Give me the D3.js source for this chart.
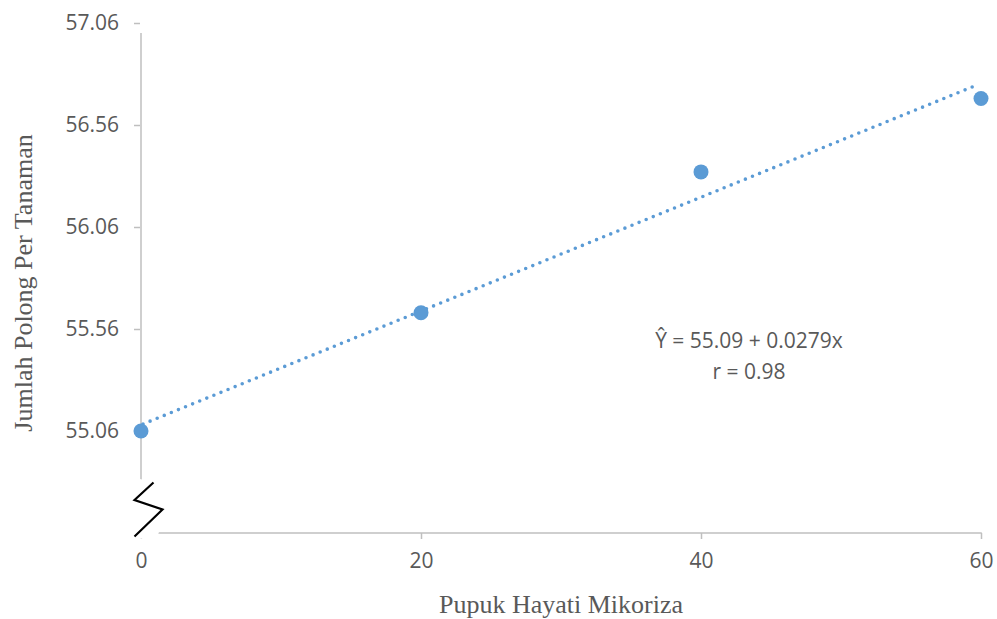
<!DOCTYPE html>
<html><head><meta charset="utf-8">
<script src="https://cdn.jsdelivr.net/npm/d3@7"></script>
<style>
html,body{margin:0;padding:0;background:#fff;}
svg{display:block;}
</style></head>
<body>
<svg id="chart" width="997" height="619"></svg>
<script>
const xValues = [0, 20, 40, 60];
const yValues = [55.06, 55.64, 56.33, 56.69];
const yTicks = [55.06, 55.56, 56.06, 56.56, 57.06];
const xTicks = [0, 20, 40, 60];
const trend = { intercept: 55.09, slope: 0.0279 };
const eqLines = ["Ŷ = 55.09 + 0.0279x", "r = 0.98"];
const xTitle = "Pupuk Hayati Mikoriza";
const yTitle = "Jumlah Polong Per Tanaman";

const svg = d3.select("#chart");
const x = d3.scaleLinear().domain([0, 60]).range([141, 981]);
const y = d3.scaleLinear().domain([54.56, 57.06]).range([533, 23]);
const axisColor = "#BFBFBF", textColor = "#595959", blue = "#5B9BD5";
const tickFont = "'Open Sans', sans-serif";

// Y axis
const ya = svg.append("g").attr("transform", `translate(${x(0) - 1},0)`)
  .call(d3.axisLeft(y).tickValues(yTicks).tickSize(6).tickPadding(15).tickFormat(d3.format(".2f")));
ya.select(".domain").remove();
ya.selectAll(".tick line").attr("stroke", axisColor).attr("stroke-width", 1.5);
ya.selectAll(".tick text").attr("fill", textColor).style("font-family", tickFont).style("font-size", "21px");
svg.append("line").attr("x1", x(0)).attr("x2", x(0)).attr("y1", y(57.06) + 10).attr("y2", 485)
  .attr("stroke", axisColor).attr("stroke-width", 1.5);

// X axis
const xa = svg.append("g").attr("transform", `translate(0,${y(54.56)})`)
  .call(d3.axisBottom(x).tickValues(xTicks).tickSize(6).tickPadding(14));
xa.select(".domain").remove();
xa.selectAll(".tick line").attr("stroke", axisColor).attr("stroke-width", 1.5);
xa.selectAll(".tick text").attr("fill", textColor).style("font-family", tickFont).style("font-size", "21px");
svg.append("line").attr("x1", x(0)).attr("x2", x(60) + 0.75).attr("y1", y(54.56)).attr("y2", y(54.56))
  .attr("stroke", axisColor).attr("stroke-width", 1.5);

// Axis break
svg.append("polygon").attr("points", "140,479 172,487 156,542 122,534").attr("fill", "#fff");
svg.append("polyline").attr("points", "153.5,482.5 134.5,500 162.5,509.5 134.5,536.5")
  .attr("fill", "none").attr("stroke", "#000").attr("stroke-width", 2.2);

// Trend line
svg.append("line")
  .attr("x1", x(0) + 2).attr("y1", y(trend.intercept + trend.slope * 0.15))
  .attr("x2", x(59.6)).attr("y2", y(trend.intercept + trend.slope * 59.6))
  .attr("stroke", blue).attr("stroke-width", 3.6).attr("stroke-linecap", "round")
  .attr("stroke-dasharray", "0 7.65");

// Points
svg.selectAll("circle.pt").data(xValues.map((v, i) => [v, yValues[i]])).enter()
  .append("circle").attr("class", "pt")
  .attr("cx", d => x(d[0])).attr("cy", d => y(d[1])).attr("r", 7.5).attr("fill", blue);

// Equation
svg.selectAll("text.eq").data(eqLines).enter().append("text").attr("class", "eq")
  .attr("x", 749).attr("y", (d, i) => 348 + i * 31).attr("text-anchor", "middle")
  .attr("fill", textColor).style("font-family", tickFont).style("font-size", "21px").text(d => d);

// Titles
svg.append("text").attr("x", 561).attr("y", 613).attr("text-anchor", "middle")
  .attr("fill", textColor).style("font-family", "'Liberation Serif', 'Times New Roman', serif")
  .style("font-size", "26px").text(xTitle);
svg.append("text").attr("transform", "translate(32,283) rotate(-90)").attr("text-anchor", "middle")
  .attr("fill", textColor).style("font-family", "'Liberation Serif', 'Times New Roman', serif")
  .style("font-size", "26px").text(yTitle);
</script>
</body></html>
